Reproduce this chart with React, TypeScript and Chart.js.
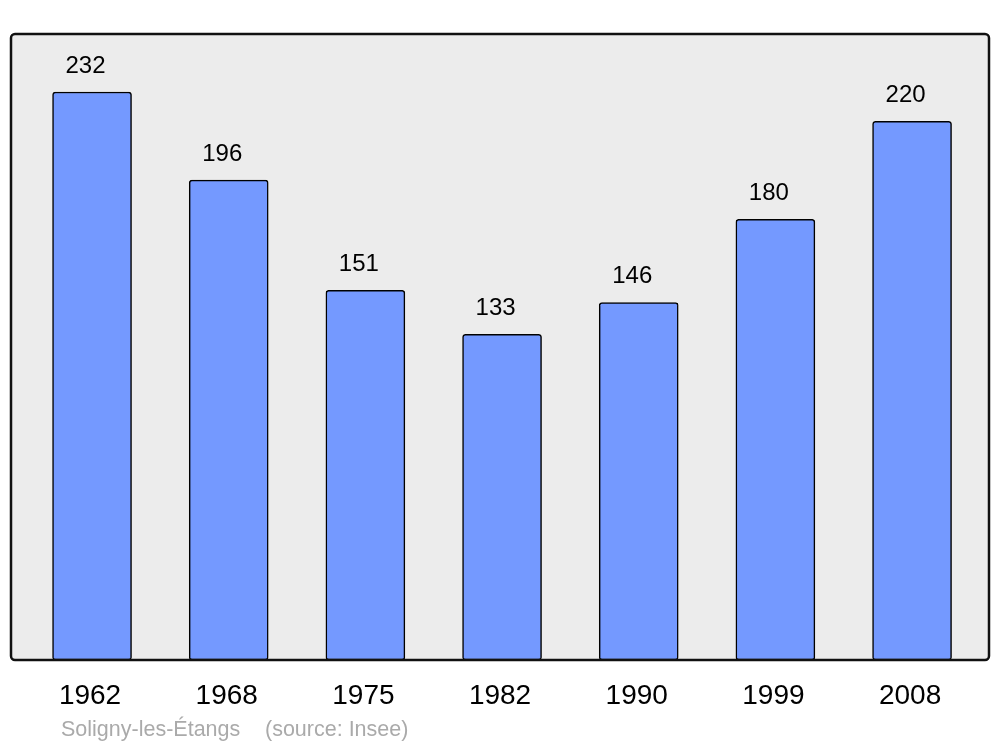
import React, { useEffect, useRef } from "react";
import { Chart, registerables } from "chart.js";

Chart.register(...registerables);

const years = ["1962", "1968", "1975", "1982", "1990", "1999", "2008"];
const population = [232, 196, 151, 133, 146, 180, 220];
const sourceLabel = "Soligny-les-Étangs";
const sourceNote = "(source: Insee)";

const FONT = "'Liberation Sans', Arial, sans-serif";

function roundRect(ctx: CanvasRenderingContext2D, x: number, y: number, w: number, h: number, r: number) {
  ctx.beginPath();
  ctx.moveTo(x + r, y);
  ctx.lineTo(x + w - r, y);
  ctx.arcTo(x + w, y, x + w, y + r, r);
  ctx.lineTo(x + w, y + h - r);
  ctx.arcTo(x + w, y + h, x + w - r, y + h, r);
  ctx.lineTo(x + r, y + h);
  ctx.arcTo(x, y + h, x, y + h - r, r);
  ctx.lineTo(x, y + r);
  ctx.arcTo(x, y, x + r, y, r);
  ctx.closePath();
}

const framePlugin = {
  id: "frame",
  beforeDatasetsDraw(chart: any) {
    const { ctx, chartArea: a } = chart;
    ctx.save();
    roundRect(ctx, a.left, a.top, a.right - a.left, a.bottom - a.top, 4);
    ctx.fillStyle = "#ececec";
    ctx.fill();
    ctx.restore();
  },
  afterDatasetsDraw(chart: any) {
    const { ctx, chartArea: a } = chart;
    ctx.save();
    roundRect(ctx, a.left, a.top, a.right - a.left, a.bottom - a.top, 4);
    ctx.lineWidth = 2.5;
    ctx.strokeStyle = "#111111";
    ctx.stroke();
    // value labels
    const meta = chart.getDatasetMeta(0);
    ctx.fillStyle = "#000000";
    ctx.font = `24px ${FONT}`;
    ctx.textAlign = "center";
    ctx.textBaseline = "middle";
    meta.data.forEach((bar: any, i: number) => {
      ctx.fillText(String(population[i]), bar.x - 6.5, bar.y - 26);
    });
    // source
    ctx.fillStyle = "#aaaaaa";
    ctx.font = `21.5px ${FONT}`;
    ctx.textAlign = "left";
    ctx.fillText(sourceLabel, 61, 730);
    ctx.fillText(sourceNote, 265, 730);
    ctx.restore();
  },
};

export default function App() {
  const ref = useRef<HTMLCanvasElement | null>(null);
  useEffect(() => {
    document.body.style.margin = "0";
    const chart = new Chart(ref.current!, {
      type: "bar",
      data: {
        datasets: [
          {
            data: population.map((v, i) => ({ x: i, y: v })),
            backgroundColor: "#7499ff",
            borderColor: "#000000",
            borderWidth: 1.5,
            borderRadius: 3,
            borderSkipped: false,
            barThickness: 79,
          },
        ],
      },
      options: {
        animation: false,
        responsive: false,
        maintainAspectRatio: false,
        layout: { padding: { left: 11, right: 11, top: 34, bottom: 0 } },
        plugins: { legend: { display: false }, tooltip: { enabled: false } },
        scales: {
          x: {
            type: "linear",
            offset: false,
            min: -0.593,
            max: 6.563,
            grid: { display: false, offset: false },
            border: { display: false },
            afterBuildTicks: (scale: any) => {
              scale.ticks = years.map((_, i) => ({ value: i }));
            },
            afterFit: (scale: any) => {
              scale.height = 87;
            },
            ticks: {
              color: "#000000",
              font: { family: FONT, size: 28 },
              padding: 11,
              labelOffset: -2,
              maxRotation: 0,
              autoSkip: false,
              callback: (v: any) => years[v] ?? "",
            },
          },
          y: {
            display: false,
            min: 0,
            max: 255.7,
          },
        },
      },
      plugins: [framePlugin],
    } as any);
    return () => chart.destroy();
  }, []);
  return (
    <div style={{ position: "absolute", left: 0, top: 0, width: 1000, height: 747 }}>
      <canvas ref={ref} width={1000} height={747} style={{ width: 1000, height: 747 }} />
    </div>
  );
}
